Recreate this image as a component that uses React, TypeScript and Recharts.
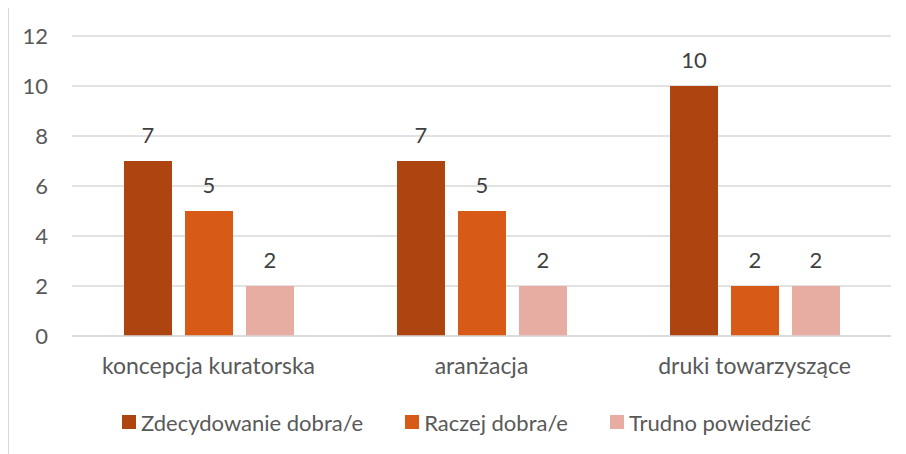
import React from "react";
import {
  BarChart,
  Bar,
  XAxis,
  YAxis,
  CartesianGrid,
  LabelList,
} from "recharts";

const categories = ["koncepcja kuratorska", "aranżacja", "druki towarzyszące"];
const zdecydowanie = [7, 7, 10];
const raczej = [5, 5, 2];
const trudno = [2, 2, 2];
const yTicks = [0, 2, 4, 6, 8, 10, 12];

const seriesNames = ["Zdecydowanie dobra/e", "Raczej dobra/e", "Trudno powiedzieć"];
const seriesColors = ["#ae4511", "#d75a17", "#e7aca2"];

const data = categories.map((name, i) => ({
  name,
  a: zdecydowanie[i],
  b: raczej[i],
  c: trudno[i],
}));

const FONT = "Lato, 'Open Sans', sans-serif";
const AXIS_GREY = "#595959";
const GRID = "#d9d9d9";

function ChartLegend() {
  return (
    <div
      style={{
        position: "absolute",
        left: 113,
        top: 401,
        display: "flex",
        alignItems: "center",
        height: 26,
        fontFamily: FONT,
        fontSize: 22,
        color: AXIS_GREY,
        whiteSpace: "nowrap",
      }}
    >
      {seriesNames.map((n, i) => (
        <div key={n} style={{ display: "flex", alignItems: "center", marginRight: i < 2 ? 42 : 0 }}>
          <span style={{ display: "inline-block", width: 14, height: 14, background: seriesColors[i], marginRight: 5 }} />
          <span>{n}</span>
        </div>
      ))}
    </div>
  );
}

export default function App() {
  const keys = ["a", "b", "c"];
  return (
    <div style={{ width: 898, height: 452, border: `1px solid ${GRID}`, marginTop: -1, background: "#fff", position: "relative" }}>
      <BarChart
        width={897}
        height={445}
        data={data}
        margin={{ top: 28, right: 15, bottom: 57, left: 0 }}
        barSize={48}
        barGap={13}
      >
        <CartesianGrid vertical={false} stroke={GRID} strokeWidth={1.3} />
        <XAxis
          dataKey="name"
          axisLine={{ stroke: GRID, strokeWidth: 1.3 }}
          tickLine={false}
          tickMargin={16}
          height={60}
          tick={{ fontSize: 23, fill: AXIS_GREY, fontFamily: FONT }}
        />
        <YAxis
          domain={[0, 12]}
          ticks={yTicks}
          axisLine={false}
          tickLine={false}
          tickMargin={18}
          width={63}
          tick={{ fontSize: 22, fill: AXIS_GREY, fontFamily: FONT }}
        />
        {keys.map((k, i) => (
          <Bar key={k} dataKey={k} name={seriesNames[i]} fill={seriesColors[i]} isAnimationActive={false}>
            <LabelList
              dataKey={k}
              position="top"
              offset={18}
              style={{ fontSize: 22, fill: "#404040", fontFamily: FONT }}
            />
          </Bar>
        ))}
      </BarChart>
      <ChartLegend />
    </div>
  );
}
